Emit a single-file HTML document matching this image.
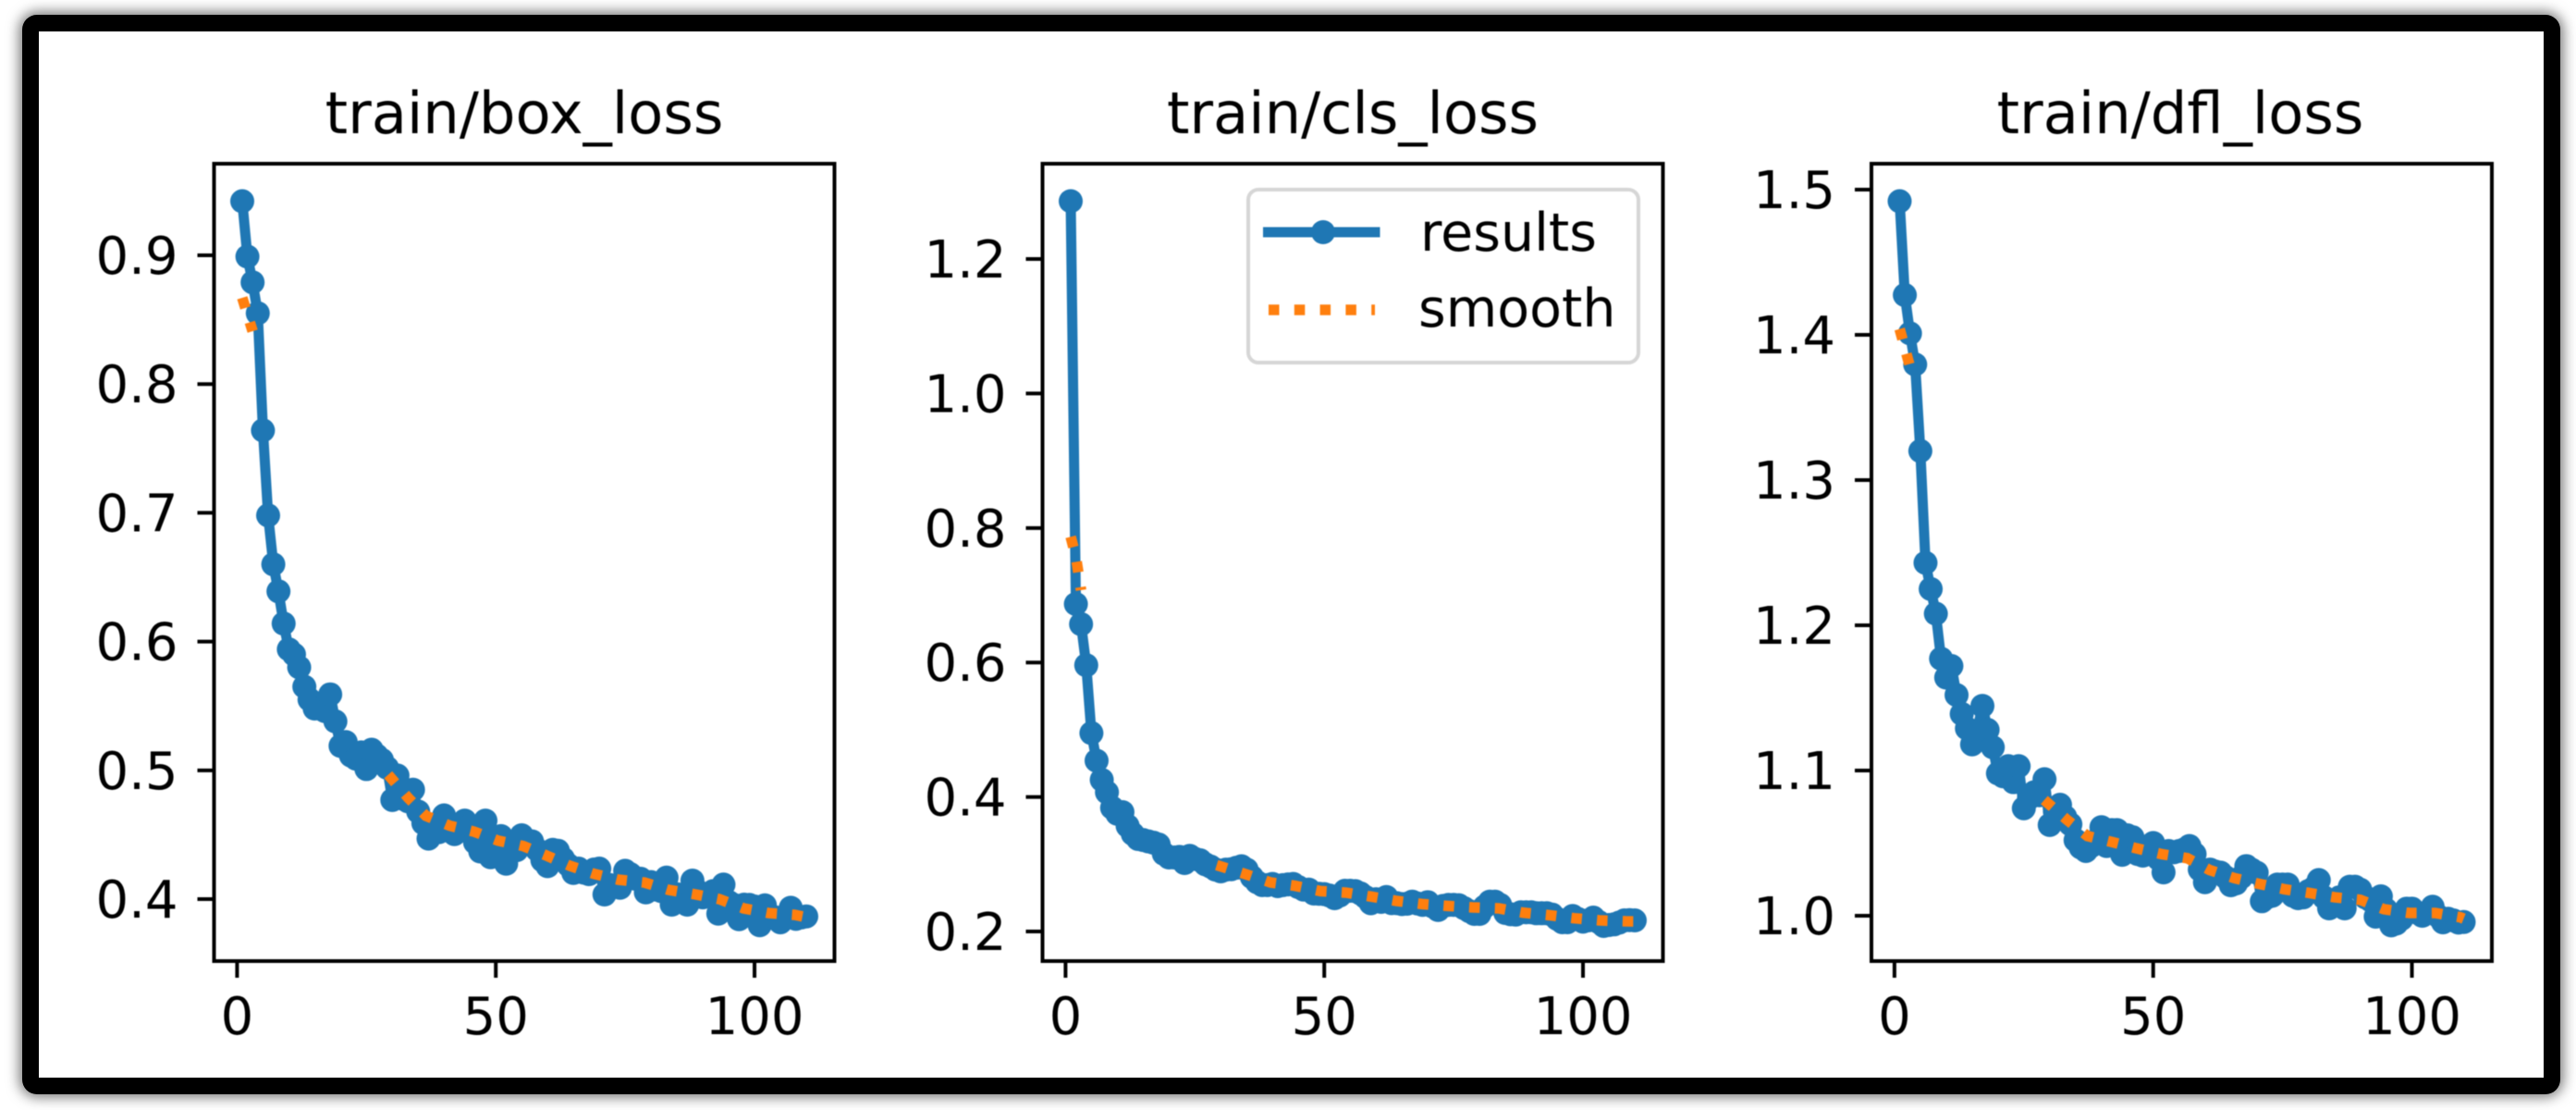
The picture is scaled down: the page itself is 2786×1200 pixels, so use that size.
<!DOCTYPE html>
<html lang="en">
<head>
<meta charset="utf-8">
<title>Training loss curves</title>
<style>
  html, body { margin: 0; padding: 0; background: #fff; width: 2786px; height: 1200px; overflow: hidden; }
  #frame { position: absolute; left: 24px; top: 16px; width: 2709px; height: 1131px; border: 18px solid #000; border-radius: 16px; background: #fff; box-shadow: 0 0 14px 3px rgba(0,0,0,.55); }
  svg { position: absolute; left: 0; top: 0; filter: blur(.6px); }
  text { font-family: "DejaVu Sans", "Liberation Sans", sans-serif; fill: #000; }
  .title { font-size: 62.4px; text-anchor: middle; }
  .tick-label { font-size: 56px; }
  .legend-label { font-size: 57px; }
</style>
</head>
<body>
<div id="frame"></div>
<svg id="chart" width="2786" height="1200" viewBox="0 0 2786 1200" xmlns="http://www.w3.org/2000/svg">
  <text class="title" x="567" y="144">train/box_loss</text>
  <text class="title" x="1463" y="144">train/cls_loss</text>
  <text class="title" x="2358" y="144">train/dfl_loss</text>
  <g id="panels"></g>
  <g>
    <rect x="1350" y="205" width="422" height="187" rx="11" ry="11" fill="#fff" fill-opacity=".8" stroke="#d6d6d6" stroke-width="4"></rect>
    <line x1="1366" y1="251" x2="1492.5" y2="251" stroke="#1f77b4" stroke-width="11"></line>
    <circle cx="1431" cy="251" r="13" fill="#1f77b4"></circle>
    <text class="legend-label" x="1536" y="271">results</text>
    <line x1="1372" y1="335" x2="1487" y2="335" stroke="#ff7f0e" stroke-width="11.5" stroke-dasharray="11.5 16.3"></line>
    <text class="legend-label" x="1534" y="353">smooth</text>
  </g>
</svg>
<script>
const xTicks = [0, 50, 100];

const boxTicks = [0.4, 0.5, 0.6, 0.7, 0.8, 0.9];
const clsTicks = [0.2, 0.4, 0.6, 0.8, 1.0, 1.2];
const dflTicks = [1.0, 1.1, 1.2, 1.3, 1.4, 1.5];

const boxLoss = [
  .942,.899,.879,.855,.764,.698,.660,.639,.614,.594,
  .590,.580,.565,.555,.548,.548,.546,.559,.538,.519,
  .522,.5115,.509,.514,.501,.516,.5115,.508,.502,.477,
  .496,.478,.476,.485,.468,.459,.447,.458,.452,.465,
  .457,.4505,.454,.461,.457,.444,.437,.461,.4325,.44,
  .449,.4275,.442,.438,.4496,.4445,.4448,.4383,.4302,.4256,
  .4383,.4376,.4314,.4266,.4203,.4237,.4206,.4194,.423,.4237,
  .4036,.411,.4098,.4088,.422,.4194,.4158,.4158,.4052,.4132,
  .4074,.4062,.4167,.3957,.4038,.4014,.3957,.4144,.4062,.4014,
  .4038,.4062,.3887,.4113,.3978,.3955,.3844,.3957,.3955,.3943,
  .3797,.3952,.3871,.3858,.382,.3871,.3933,.3847,.3858,.3866
];
const clsLoss = [
  1.286,.687,.657,.596,.495,.454,.4255,.407,.384,.375,
  .3775,.357,.345,.3376,.336,.334,.332,.3293,.3155,.31,
  .31,.311,.3018,.3125,.308,.306,.30,.2967,.292,.2894,
  .292,.2926,.2947,.297,.292,.281,.2733,.269,.269,.2706,
  .2675,.269,.27,.2706,.266,.2623,.2623,.2564,.256,.2555,
  .2535,.2495,.2535,.2605,.2605,.26,.2565,.251,.242,.248,
  .244,.2513,.2422,.2422,.2408,.2413,.2444,.2417,.2395,.2436,
  .2371,.232,.2381,.2395,.2395,.239,.2348,.2303,.2261,.2261,
  .2371,.2444,.2444,.2395,.2275,.2257,.2252,.2285,.2285,.2285,
  .2271,.2271,.2271,.2252,.2188,.2138,.2138,.223,.2188,.2147,
  .2165,.2206,.2142,.2083,.2096,.2106,.2133,.2165,.2169,.2165
];
const dflLoss = [
  1.492,1.4274,1.401,1.3796,1.32,1.243,1.225,1.208,1.177,1.164,
  1.172,1.152,1.139,1.129,1.118,1.1275,1.1445,1.128,1.116,1.098,
  1.096,1.103,1.092,1.103,1.074,1.081,1.085,1.083,1.094,1.0625,
  1.072,1.0764,1.068,1.063,1.052,1.047,1.0446,1.048,1.052,1.061,
  1.048,1.059,1.059,1.042,1.0554,1.0541,1.0425,1.0414,1.0425,1.0501,
  1.0393,1.0299,1.0446,1.0437,1.0446,1.0457,1.048,1.0425,1.0318,1.0231,
  1.0318,1.0304,1.0297,1.0265,1.021,1.0223,1.0265,1.0342,1.0318,1.0297,
  1.01,1.0127,1.0138,1.0215,1.0215,1.0215,1.0138,1.0121,1.0127,1.017,
  1.0191,1.0246,1.0127,1.0051,1.0085,1.0127,1.0051,1.02,1.02,1.018,
  1.0127,1.0106,.9994,1.0134,1.0042,.9934,.9947,.9979,1.0049,1.0049,
  1.0021,1.0,1.0021,1.0062,1.0,.9955,.9979,.9968,.9953,.9957
];

const smoothHeadEpochs = [1, 2, 3];
const boxSmoothHead = [.867, .854, .841];
const clsSmoothHead = [.787, .757, .7076];
const dflSmoothHead = [1.404, 1.391, 1.378];

const boxSmoothEpochs = [29.2,33.1,36.5,41.1,45.8,50.4,55.3,59.7,64.3,69,73.7,78.7,83.4,88.4,93.2,97.9,102.7,107.7,110];
const boxSmooth = [.4966,.4785,.4647,.457,.4524,.4455,.4412,.434,.4259,.4196,.4151,.4129,.4072,.4038,.40,.3928,.3892,.3878,.386];
const clsSmoothEpochs = [29.2,34.9,39.6,44.3,49.3,54.1,59.1,64,68.9,73.8,78.7,83.7,88.4,93.4,98.3,103.2,108.3,110];
const clsSmooth = [.2987,.285,.273,.268,.26,.2578,.2518,.2454,.2408,.238,.2358,.2344,.228,.2243,.2197,.2165,.2151,.215];
const dflSmoothEpochs = [28.95,33.4,37.3,42,46.8,51.7,56.6,60.9,65.7,70.4,75.3,80.1,85.1,90,94.6,99.5,104.5,109.3,110];
const dflSmooth = [1.0797,1.0659,1.0549,1.0508,1.0464,1.0424,1.0396,1.0315,1.0259,1.022,1.0183,1.0157,1.0127,1.011,1.0045,1.0019,1.0019,.999,.998];

const NS = 'http://www.w3.org/2000/svg';
const root = document.getElementById('panels');

function make(tag, attrs, parent) {
  const node = document.createElementNS(NS, tag);
  for (const key in attrs) node.setAttribute(key, attrs[key]);
  parent.appendChild(node);
  return node;
}
function linearScale(d0, d1, r0, r1) {
  return function (v) { return r0 + (v - d0) * (r1 - r0) / (d1 - d0); };
}
function pointsOf(xs, ys, sx, sy) {
  return xs.map(function (x, i) { return sx(x).toFixed(2) + ',' + sy(ys[i]).toFixed(2); }).join(' ');
}

function drawPanel(cfg) {
  const top = 177, bottom = 1039;
  const sx = linearScale(-4.45, 115.45, cfg.left, cfg.left + 671);
  const sy = linearScale(cfg.yMin, cfg.yMax, bottom, top);
  const epochs = cfg.results.map(function (_, i) { return i + 1; });

  const g = make('g', {}, root);
  
  

  xTicks.forEach(function (t) {
    const tick = make('line', { x1: sx(t), x2: sx(t), y1: bottom, y2: bottom + 18, stroke: '#000', 'stroke-width': 4 }, g);
    
    
    const label = make('text', { x: sx(t), y: 1118, 'text-anchor': 'middle', class: 'tick-label' }, g);
    label.textContent = String(t);
    
    
  });
  cfg.ticks.forEach(function (t) {
    const tick = make('line', { x1: cfg.left - 18, x2: cfg.left, y1: sy(t), y2: sy(t), stroke: '#000', 'stroke-width': 4 }, g);
    
    
    const label = make('text', { x: cfg.left - 39, y: sy(t) + 20, 'text-anchor': 'end', class: 'tick-label' }, g);
    label.textContent = t.toFixed(1);
    
    
  });

  const line = make('polyline', { points: pointsOf(epochs, cfg.results, sx, sy), fill: 'none', stroke: '#1f77b4', 'stroke-width': 11, 'stroke-linejoin': 'round' }, g);
  
  

  epochs.forEach(function (e, i) {
    const dot = make('circle', { cx: sx(e), cy: sy(cfg.results[i]), r: 13, fill: '#1f77b4' }, g);
    
    
  });

  const head = make('polyline', { points: pointsOf(smoothHeadEpochs, cfg.smoothHead, sx, sy), fill: 'none', stroke: '#ff7f0e', 'stroke-width': 11.5, 'stroke-dasharray': '11.5 16.3' }, g);
  
  

  const tail = make('polyline', { points: pointsOf(cfg.smoothEpochs, cfg.smooth, sx, sy), fill: 'none', stroke: '#ff7f0e', 'stroke-width': 11.5, 'stroke-dasharray': '11.5 16.3' }, g);
  
  

  const box = make('rect', { x: cfg.left, y: top, width: 671, height: bottom - top, fill: 'none', stroke: '#000', 'stroke-width': 4 }, g);
  
  
}

drawPanel({ name: 'box-loss', left: 231.5, yMin: .3519, yMax: .9711, ticks: boxTicks, results: boxLoss, smoothHead: boxSmoothHead, smoothEpochs: boxSmoothEpochs, smooth: boxSmooth });
drawPanel({ name: 'cls-loss', left: 1127.5, yMin: .156, yMax: 1.3417, ticks: clsTicks, results: clsLoss, smoothHead: clsSmoothHead, smoothEpochs: clsSmoothEpochs, smooth: clsSmooth });
drawPanel({ name: 'dfl-loss', left: 2024, yMin: .9688, yMax: 1.5178, ticks: dflTicks, results: dflLoss, smoothHead: dflSmoothHead, smoothEpochs: dflSmoothEpochs, smooth: dflSmooth });
</script>
</body>
</html>
